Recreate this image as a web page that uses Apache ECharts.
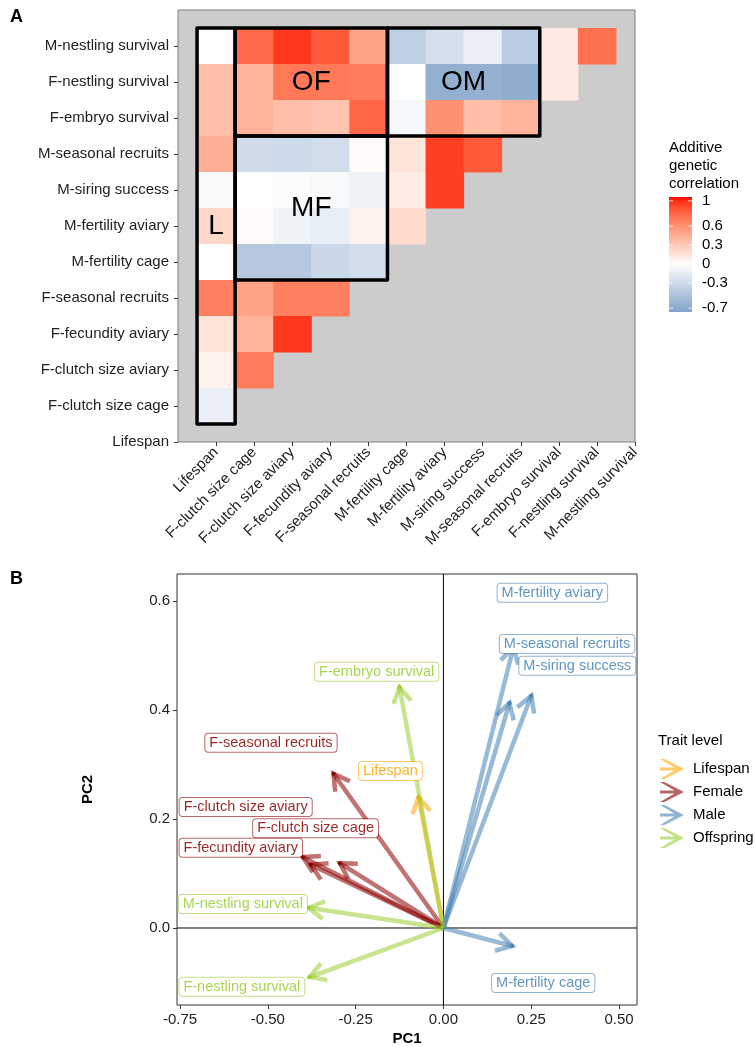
<!DOCTYPE html>
<html><head><meta charset="utf-8">
<script src="https://cdn.jsdelivr.net/npm/echarts@6/dist/echarts.min.js"></script>
<style>html,body{margin:0;padding:0;background:#fff}#c{width:755px;height:1047px}</style>
</head><body><div id="c"></div><script>
// ---------- Panel A data ----------
const traitsX = ['Lifespan','F-clutch size cage','F-clutch size aviary','F-fecundity aviary','F-seasonal recruits','M-fertility cage','M-fertility aviary','M-siring success','M-seasonal recruits','F-embryo survival','F-nestling survival','M-nestling survival'];
const traitsY = ['M-nestling survival','F-nestling survival','F-embryo survival','M-seasonal recruits','M-siring success','M-fertility aviary','M-fertility cage','F-seasonal recruits','F-fecundity aviary','F-clutch size aviary','F-clutch size cage','Lifespan'];
// each row: correlations with traitsX columns (left to right)
const rowMNestlingSurvival = [0.01, 0.78, 0.97, 0.85, 0.5, -0.38, -0.25, -0.12, -0.42, 0.12, 0.75];
const rowFNestlingSurvival = [0.36, 0.42, 0.72, 0.72, 0.7, -0.02, -0.65, -0.65, -0.68, 0.12];
const rowFEmbryoSurvival = [0.36, 0.42, 0.36, 0.33, 0.8, -0.06, 0.6, 0.36, 0.42];
const rowMSeasonalRecruits = [0.44, -0.28, -0.3, -0.27, 0.02, 0.15, 0.95, 0.85];
const rowMSiringSuccess = [-0.05, 0.0, -0.03, -0.05, -0.1, 0.1, 0.95];
const rowMFertilityAviary = [0.22, 0.02, -0.1, -0.14, 0.08, 0.2];
const rowMFertilityCage = [0.01, -0.45, -0.45, -0.32, -0.27];
const rowFSeasonalRecruits = [0.68, 0.5, 0.68, 0.68];
const rowFFecundityAviary = [0.15, 0.42, 0.97];
const rowFClutchSizeAviary = [0.08, 0.7];
const rowFClutchSizeCage = [-0.12];
const rowLifespan = [];
const corrRows = [rowMNestlingSurvival,rowFNestlingSurvival,rowFEmbryoSurvival,rowMSeasonalRecruits,rowMSiringSuccess,rowMFertilityAviary,rowMFertilityCage,rowFSeasonalRecruits,rowFFecundityAviary,rowFClutchSizeAviary,rowFClutchSizeCage,rowLifespan];
// block outlines (inclusive column / row indices)
const blockNames = ['L','OF','OM','MF'];
const blockColStart = [0,1,5,1];
const blockColEnd = [0,4,8,4];
const blockRowStart = [0,0,0,3];
const blockRowEnd = [10,2,2,6];
const blockLabelCol = [0,2.5,6.5,2.5];
const blockLabelRow = [5,1,1,4.5];
const legendBreaks = [1,0.6,0.3,0,-0.3,-0.7];
const legendRange = [-0.76, 1.06];

// ---------- Panel B data ----------
const pcaTraits = ['Lifespan','F-clutch size cage','F-clutch size aviary','F-fecundity aviary','F-seasonal recruits','M-fertility cage','M-fertility aviary','M-siring success','M-seasonal recruits','F-embryo survival','F-nestling survival','M-nestling survival'];
const pcaGroup = ['Lifespan','Female','Female','Female','Female','Male','Male','Male','Male','Offspring','Offspring','Offspring'];
const pc1 = [-0.071,-0.295,-0.378,-0.40,-0.313,0.196,0.188,0.25,0.199,-0.125,-0.381,-0.384];
const pc2 = [0.240,0.119,0.116,0.130,0.283,-0.033,0.413,0.426,0.515,0.442,-0.090,0.037];
const labelPC1 = [-0.151,-0.364,-0.563,-0.577,-0.491,0.284,0.310,0.381,0.352,-0.190,-0.574,-0.571];
const labelPC2 = [0.288,0.183,0.222,0.147,0.340,-0.101,0.615,0.481,0.521,0.470,-0.108,0.044];
const groups = ['Lifespan','Female','Male','Offspring'];
const groupColors = {Lifespan:[255,165,0], Female:[139,0,0], Male:[70,130,180], Offspring:[154,205,50]};
const pc1Ticks = [-0.75,-0.5,-0.25,0,0.25,0.5];
const pc2Ticks = [0,0.2,0.4,0.6];

// ---------- colour helpers (Lab interpolation like ggplot) ----------
function toLin(c){c/=255;return c<=0.04045?c/12.92:Math.pow((c+0.055)/1.055,2.4);}
function toSrgb(c){c=c<=0.0031308?12.92*c:1.055*Math.pow(c,1/2.4)-0.055;return Math.max(0,Math.min(255,Math.round(c*255)));}
function rgb2lab(rgb){const r=toLin(rgb[0]),g=toLin(rgb[1]),b=toLin(rgb[2]);
  const X=(0.4124*r+0.3576*g+0.1805*b)/0.95047,Y=0.2126*r+0.7152*g+0.0722*b,Z=(0.0193*r+0.1192*g+0.9505*b)/1.08883;
  const f=t=>t>0.008856?Math.cbrt(t):7.787*t+16/116;return [116*f(Y)-16,500*(f(X)-f(Y)),200*(f(Y)-f(Z))];}
function lab2rgb(lab){const fy=(lab[0]+16)/116,fx=fy+lab[1]/500,fz=fy-lab[2]/200;
  const fi=t=>t*t*t>0.008856?t*t*t:(t-16/116)/7.787;const X=fi(fx)*0.95047,Y=fi(fy),Z=fi(fz)*1.08883;
  return [3.2406*X-1.5372*Y-0.4986*Z,-0.9689*X+1.8758*Y+0.0415*Z,0.0557*X-0.2040*Y+1.0570*Z].map(toSrgb);}
const LAB_HIGH=rgb2lab([255,0,0]),LAB_MID=rgb2lab([255,255,255]),LAB_LOW=rgb2lab([70,130,180]);
const MAXABS=1.06;
function corrColor(v){const t=Math.min(1,Math.abs(v)/MAXABS);const end=v>=0?LAB_HIGH:LAB_LOW;
  const lab=[0,1,2].map(i=>LAB_MID[i]+(end[i]-LAB_MID[i])*t);const c=lab2rgb(lab);return 'rgb('+c.join(',')+')';}
function rgba(c,a){return 'rgba('+c[0]+','+c[1]+','+c[2]+','+a+')';}

// ---------- build series data ----------
const tileData=[];
corrRows.forEach((row,r)=>row.forEach((v,c)=>tileData.push([c,r,v])));
const blockData=blockNames.map((n,i)=>[blockColStart[i]-0.5,blockRowStart[i]-0.5,blockColEnd[i]+0.5,blockRowEnd[i]+0.5,blockLabelCol[i],blockLabelRow[i],i]);
const idx=[...Array(12).keys()];

const FONT='"Liberation Sans", Arial, Helvetica, sans-serif';
const chart=echarts.init(document.getElementById('c'),null,{renderer:'canvas'});

const arrowSeries=groups.map(g=>({
  name:g,type:'custom',xAxisIndex:1,yAxisIndex:1,z:3,
  itemStyle:{color:rgba(groupColors[g],1)},
  data:pcaTraits.map((t,i)=>[pc1[i],pc2[i],i]).filter(d=>pcaGroup[d[2]]===g),
  renderItem:function(params,api){
    const col=groupColors[g];
    const o=api.coord([0,0]),e=api.coord([api.value(0),api.value(1)]);
    const ang=Math.atan2(e[1]-o[1],e[0]-o[0]),L=18,a=Math.PI/6;
    const p1=[e[0]-L*Math.cos(ang-a),e[1]-L*Math.sin(ang-a)];
    const p2=[e[0]-L*Math.cos(ang+a),e[1]-L*Math.sin(ang+a)];
    return {type:'group',children:[
      {type:'line',shape:{x1:o[0],y1:o[1],x2:e[0],y2:e[1]},style:{stroke:rgba(col,0.55),lineWidth:4.5}},
      {type:'polyline',shape:{points:[p1,e,p2]},style:{stroke:rgba(col,0.55),lineWidth:4.5,fill:null}},
      {type:'circle',shape:{cx:e[0],cy:e[1],r:2},style:{fill:rgba(col,1)}}
    ]};
  }
}));

const iconPath='path://M0,0 L4.5,0 L24,10 L4.5,20 L0,20 L17,10 Z M0,8.5 L19,8.5 L19,11.5 L0,11.5 Z';

// colour bar (legend of panel A)
const cbX=669,cbTop=197,cbBot=312,cbW=23;
function cbY(v){return cbTop+(legendRange[1]-v)/(legendRange[1]-legendRange[0])*(cbBot-cbTop);}
const cbStops=[];
for(let k=0;k<=30;k++){const v=legendRange[1]-(legendRange[1]-legendRange[0])*k/30;cbStops.push({offset:k/30,color:corrColor(v)});}
const graphics=[
  {type:'text',left:10,top:8,style:{text:'A',font:'bold 18px '+FONT,fill:'#000'}},
  {type:'text',left:10,top:570,style:{text:'B',font:'bold 18px '+FONT,fill:'#000'}},
  {type:'text',left:669,top:139,style:{text:'Additive\ngenetic\ncorrelation',font:'15px '+FONT,fill:'#000',lineHeight:18}},
  {type:'rect',shape:{x:cbX,y:cbTop,width:cbW,height:cbBot-cbTop},style:{fill:{type:'linear',x:0,y:0,x2:0,y2:1,colorStops:cbStops}}},
  {type:'text',left:658,top:733,style:{text:'Trait level',font:'15px '+FONT,fill:'#000'}}
];
legendBreaks.forEach(b=>{
  const y=cbY(b);
  graphics.push({type:'line',shape:{x1:cbX,y1:y,x2:cbX+4,y2:y},style:{stroke:'rgba(255,255,255,0.8)',lineWidth:1}});
  graphics.push({type:'line',shape:{x1:cbX+cbW-4,y1:y,x2:cbX+cbW,y2:y},style:{stroke:'rgba(255,255,255,0.8)',lineWidth:1}});
  graphics.push({type:'text',x:702,y:y,style:{text:String(b),font:'15px '+FONT,fill:'#000',verticalAlign:'middle'}});
});

const option={
  animation:false,
  backgroundColor:'#fff',
  textStyle:{fontFamily:FONT},
  grid:[
    {left:178,top:10,width:457,height:432,show:true,backgroundColor:'#CCCCCC',borderColor:'#7F7F7F',borderWidth:1},
    {left:177,top:574,width:460,height:431,show:true,backgroundColor:'#fff',borderColor:'#333',borderWidth:1}
  ],
  xAxis:[
    {type:'value',gridIndex:0,min:-1,max:11,splitLine:{show:false},axisLine:{show:false,onZero:false},
     axisTick:{show:true,customValues:idx,length:4,lineStyle:{color:'#333'}},
     axisLabel:{customValues:idx,rotate:45,margin:8,fontSize:15,color:'#222',fontFamily:FONT,formatter:v=>traitsX[Math.round(v)]||''}},
    {type:'value',gridIndex:1,min:-0.7585,max:0.551,splitLine:{show:false},axisLine:{show:false,onZero:false},
     axisTick:{show:true,customValues:pc1Ticks,length:4,lineStyle:{color:'#333'}},
     axisLabel:{customValues:pc1Ticks,margin:7,fontSize:15,color:'#222',fontFamily:FONT,formatter:v=>(Math.abs(v)<1e-9?0:v).toFixed(2)},
     name:'PC1',nameLocation:'middle',nameGap:26,nameTextStyle:{fontSize:15,fontWeight:'bold',color:'#000',fontFamily:FONT}}
  ],
  yAxis:[
    {type:'value',gridIndex:0,min:-1,max:11,inverse:true,splitLine:{show:false},axisLine:{show:false,onZero:false},
     axisTick:{show:true,customValues:idx,length:4,lineStyle:{color:'#333'}},
     axisLabel:{customValues:idx,margin:9,fontSize:15,color:'#222',fontFamily:FONT,formatter:v=>traitsY[Math.round(v)]||''}},
    {type:'value',gridIndex:1,min:-0.1413,max:0.6495,splitLine:{show:false},axisLine:{show:false,onZero:false},
     axisTick:{show:true,customValues:pc2Ticks,length:4,lineStyle:{color:'#333'}},
     axisLabel:{customValues:pc2Ticks,margin:7,fontSize:15,color:'#222',fontFamily:FONT,formatter:v=>v.toFixed(1)},
     name:'PC2',nameLocation:'middle',nameGap:82,nameRotate:90,nameTextStyle:{fontSize:15,fontWeight:'bold',color:'#000',fontFamily:FONT}}
  ],
  legend:{
    orient:'vertical',left:655,top:754,itemWidth:24,itemHeight:20,itemGap:3,selectedMode:false,
    textStyle:{fontSize:15,color:'#000',fontFamily:FONT,padding:[0,0,0,4]},
    data:groups.map(g=>({name:g,icon:iconPath,itemStyle:{color:rgba(groupColors[g],1),opacity:0.6}}))
  },
  graphic:graphics,
  series:[
    {type:'custom',name:'tiles',xAxisIndex:0,yAxisIndex:0,data:tileData,z:2,
     renderItem:function(params,api){
       const c=api.value(0),r=api.value(1),v=api.value(2);
       const p0=api.coord([c-0.5,r-0.5]),p1=api.coord([c+0.5,r+0.5]);
       return {type:'rect',shape:{x:Math.min(p0[0],p1[0]),y:Math.min(p0[1],p1[1]),width:Math.abs(p1[0]-p0[0])+0.5,height:Math.abs(p1[1]-p0[1])+0.5},style:{fill:corrColor(v)}};
     }},
    {type:'custom',name:'blocks',xAxisIndex:0,yAxisIndex:0,data:blockData,z:4,
     renderItem:function(params,api){
       const p0=api.coord([api.value(0),api.value(1)]),p1=api.coord([api.value(2),api.value(3)]);
       const lp=api.coord([api.value(4),api.value(5)]);
       return {type:'group',children:[
         {type:'rect',shape:{x:p0[0],y:p0[1],width:p1[0]-p0[0],height:p1[1]-p0[1]},style:{fill:null,stroke:'#000',lineWidth:3.5,lineJoin:'round'}},
         {type:'text',x:lp[0],y:lp[1],style:{text:blockNames[api.value(6)],font:'28px '+FONT,fill:'#000',align:'center',verticalAlign:'middle'}}
       ]};
     }},
    {type:'custom',name:'zero',xAxisIndex:1,yAxisIndex:1,data:[[0,0]],z:2,
     renderItem:function(params,api){
       const o=api.coord([0,0]);const cs=params.coordSys;
       return {type:'group',children:[
         {type:'line',shape:{x1:cs.x,y1:o[1],x2:cs.x+cs.width,y2:o[1]},style:{stroke:'#000',lineWidth:1}},
         {type:'line',shape:{x1:o[0],y1:cs.y,x2:o[0],y2:cs.y+cs.height},style:{stroke:'#000',lineWidth:1}}
       ]};
     }},
    ...arrowSeries,
    {type:'custom',name:'labels',xAxisIndex:1,yAxisIndex:1,z:6,
     data:pcaTraits.map((t,i)=>[labelPC1[i],labelPC2[i],i]),
     renderItem:function(params,api){
       const i=api.value(2),p=api.coord([api.value(0),api.value(1)]);const col=groupColors[pcaGroup[i]];
       return {type:'text',x:p[0],y:p[1],style:{text:pcaTraits[i],font:'14.5px '+FONT,fill:rgba(col,0.85),align:'center',verticalAlign:'middle',
         backgroundColor:'#fff',borderColor:rgba(col,0.6),borderWidth:1,borderRadius:3,padding:[2,4,1,4]}};
     }}
  ]
};
chart.setOption(option);
</script></body></html>
